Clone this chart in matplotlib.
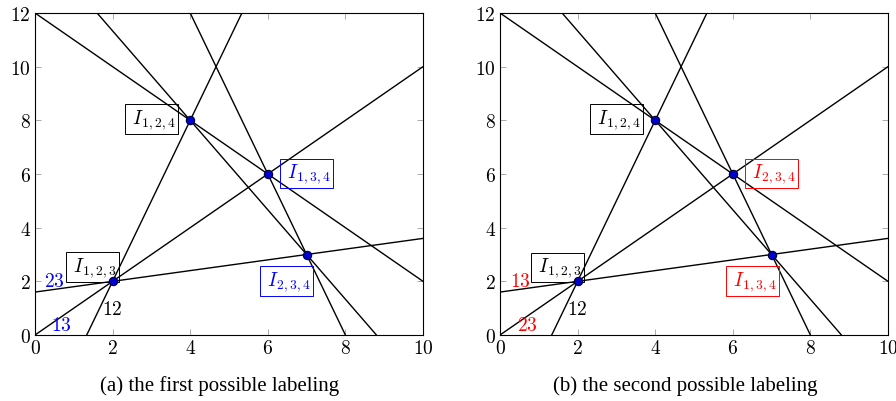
import numpy as np
import matplotlib
matplotlib.use("Agg")
from matplotlib import pyplot as plt
from matplotlib.ticker import FuncFormatter

# intersection points (x, y)
points_x = [2, 4, 6, 7]
points_y = [2, 8, 6, 3]
# each line passes through two of the points (indices)
line_pairs = [(0, 1), (0, 2), (0, 3), (1, 2), (1, 3), (2, 3)]

# boxed labels: text, point index, offset in pixels
box_labels_a = [(r"I_{1,2,4}", 1, (-38.7, 1.3), "black"),
                (r"I_{1,3,4}", 2, (38.7, 0.5), "blue"),
                (r"I_{2,3,4}", 3, (-20, -26.5), "blue"),
                (r"I_{1,2,3}", 0, (-20, 14.5), "black")]
box_labels_b = [(r"I_{1,2,4}", 1, (-38.7, 1.3), "black"),
                (r"I_{2,3,4}", 2, (38.7, 0.5), "red"),
                (r"I_{1,3,4}", 3, (-19, -26.5), "red"),
                (r"I_{1,2,3}", 0, (-20, 14.0), "black")]
# line labels near the origin: text, x, y, colour
line_labels_a = [("23", 0.5, 2.0, "blue"), ("13", 0.68, 0.37, "blue"), ("12", 1.98, 0.97, "black")]
line_labels_b = [("13", 0.52, 2.0, "red"), ("23", 0.70, 0.37, "red"), ("12", 2.0, 0.97, "black")]

captions = ["(a) the first possible labeling", "(b) the second possible labeling"]

plt.rcParams["mathtext.fontset"] = "cm"
plt.rcParams["font.family"] = ["Liberation Serif", "DejaVu Serif"]

fig = plt.figure(figsize=(8.96, 4.02), dpi=100)
ax_a = fig.add_axes([35 / 896, 66 / 402, 388 / 896, 322 / 402])
ax_b = fig.add_axes([500 / 896, 66 / 402, 388 / 896, 322 / 402])

xs = np.linspace(-1, 11, 2)


def draw_panel(ax, box_labels, line_labels, caption, cx):
    for i, j in line_pairs:
        x1, y1 = points_x[i], points_y[i]
        x2, y2 = points_x[j], points_y[j]
        slope = (y2 - y1) / (x2 - x1)
        ax.plot(xs, y1 + slope * (xs - x1), color="black", lw=1.0, zorder=2)
    ax.plot(points_x, points_y, "o", ms=6, mfc="#0000cc", mec="#000033", mew=0.8, zorder=4)

    for text, idx, (dx, dy), col in box_labels:
        ax.annotate(r"$\;%s\;$" % text, xy=(points_x[idx], points_y[idx]), xytext=(dx, dy),
                    textcoords="offset pixels", ha="center", va="center",
                    fontsize=14, color=col, zorder=3,
                    bbox=dict(boxstyle="square,pad=0.15", fc="none", ec=col, lw=0.7))
    for text, x, y, col in line_labels:
        ax.text(x, y, "$%s$" % text, ha="center", va="center", fontsize=14, color=col, zorder=3)

    ax.set_xlim(0, 10)
    ax.set_ylim(0, 12)
    ax.set_xticks(range(0, 11, 2))
    ax.set_yticks(range(0, 13, 2))
    fmt = FuncFormatter(lambda v, p: "$%d$" % v)
    ax.xaxis.set_major_formatter(fmt)
    ax.yaxis.set_major_formatter(fmt)
    ax.tick_params(direction="in", length=4, width=0.5, labelsize=14, pad=3, top=True, right=True,
                   color="#888888")
    for s in ax.spines.values():
        s.set_linewidth(0.8)
    fig.text(cx, 16 / 402, caption, ha="center", va="center", fontsize=15)


draw_panel(ax_a, box_labels_a, line_labels_a, captions[0], 220 / 896)
draw_panel(ax_b, box_labels_b, line_labels_b, captions[1], 685 / 896)

fig.savefig("out.png", dpi=100)
